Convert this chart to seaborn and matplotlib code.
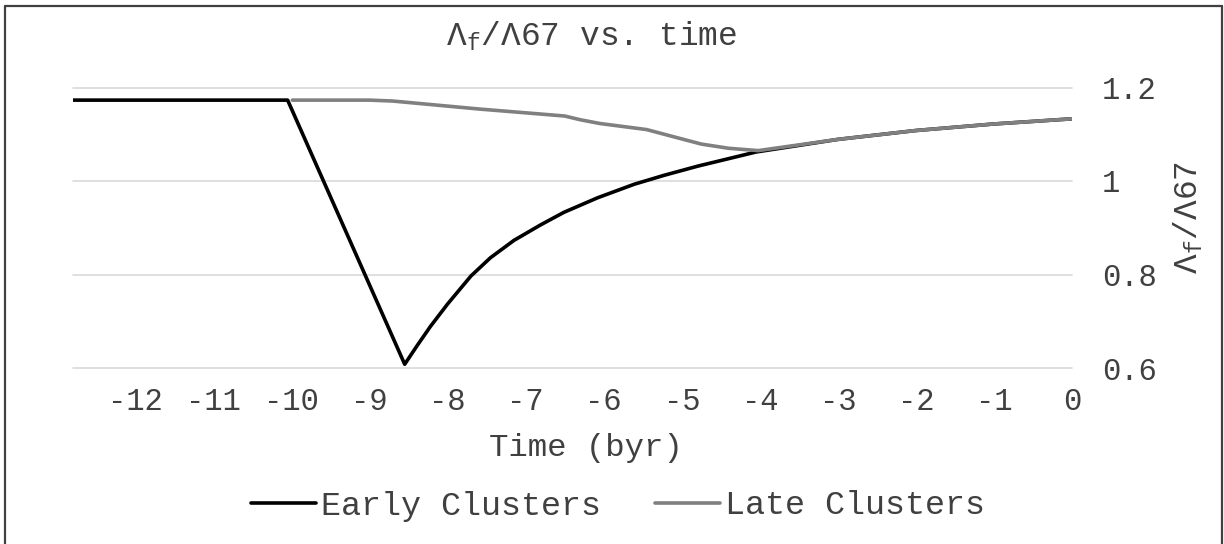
import numpy as np
import pandas as pd
import matplotlib
matplotlib.use('Agg')
import matplotlib.pyplot as plt
from matplotlib.lines import Line2D
from matplotlib.ticker import FuncFormatter
import seaborn as sns

# values
early_time = [-12.8, -10.05, -8.55, -8.39, -8.22, -8.0, -7.7, -7.45, -7.15, -6.81,
              -6.51, -6.08, -5.61, -5.23, -4.79, -4.37, -4.05, -3.0, -2.0, -1.0, 0.0]
early_ratio = [1.173, 1.173, 0.608, 0.648, 0.689, 0.737, 0.797, 0.836, 0.873, 0.906,
               0.933, 0.964, 0.993, 1.012, 1.032, 1.049, 1.062, 1.089, 1.108, 1.122, 1.133]

late_time = [-9.99, -9.0, -8.7, -7.6, -6.5, -6.3, -6.05, -5.45, -5.0, -4.75,
             -4.4, -4.02, -3.0, -2.0, -1.0, 0.0]
late_ratio = [1.173, 1.173, 1.171, 1.154, 1.139, 1.131, 1.123, 1.110, 1.090, 1.079,
              1.070, 1.065, 1.089, 1.108, 1.122, 1.133]

series_names = ['Early Clusters', 'Late Clusters']
series_colors = ['#000000', '#808080']
x_ticks = list(range(-12, 1))
y_ticks = [0.6, 0.8, 1.0, 1.2]

df = pd.concat([
    pd.DataFrame({'time': early_time, 'ratio': early_ratio, 'series': series_names[0]}),
    pd.DataFrame({'time': late_time, 'ratio': late_ratio, 'series': series_names[1]}),
])

sns.set_theme(style='white')
plt.rcParams['font.family'] = ['Liberation Mono', 'DejaVu Sans']
plt.rcParams['mathtext.fontset'] = 'custom'
plt.rcParams['mathtext.rm'] = 'Liberation Mono'
plt.rcParams['mathtext.it'] = 'Liberation Mono'
plt.rcParams['mathtext.default'] = 'regular'
plt.rcParams['axes.unicode_minus'] = False

text_col = '#404040'

fig = plt.figure(figsize=(12.24, 5.44), dpi=100)
ax = fig.add_axes([73/1224, 1-368/544, (1072-73)/1224, (368-87.5)/544])

sns.lineplot(data=df, x='time', y='ratio', hue='series', hue_order=series_names,
             palette=series_colors, estimator=None, sort=False, linewidth=2.6,
             legend=True, ax=ax)
for ln in ax.get_lines():
    ln.set_solid_joinstyle('round')

ax.set_xlim(-12.8, 0)
ax.set_ylim(0.6, 1.2)
ax.set_xticks(x_ticks)
ax.set_yticks(y_ticks)
ax.yaxis.set_major_formatter(FuncFormatter(lambda v, p: f'{v:g}'))
ax.yaxis.tick_right()
ax.yaxis.set_label_position('right')
ax.tick_params(axis='both', length=0, labelsize=22, colors=text_col)
ax.tick_params(axis='x', pad=14)
ax.tick_params(axis='y', pad=21.6)
for s in ax.spines.values():
    s.set_visible(False)
ax.grid(axis='y', color='#d9d9d9', linewidth=1.2)
ax.grid(axis='x', visible=False)
for gl in ax.get_ygridlines():
    gl.set_clip_on(False)

ax.set_title(r'$\Lambda_f/\Lambda67$ vs. time', fontsize=23.7, color=text_col,
             x=(592-73)/999, pad=30)
ax.set_xlabel('Time (byr)', fontsize=23.3, color=text_col)
ax.xaxis.set_label_coords((586-73)/999, -0.232)
ax.set_ylabel(r'$\Lambda_f/\Lambda67$', fontsize=23.7, color=text_col)
ax.yaxis.set_label_coords((1172-73)/999, 0.537)

handles, labels = ax.get_legend_handles_labels()
ax.legend_.remove()
fig.legend(handles, labels, loc='center', bbox_to_anchor=(618/1224, 1-506/544),
           ncol=2, frameon=False, fontsize=24, handlelength=1.95,
           handletextpad=0.15, columnspacing=1.6, labelcolor=text_col)

# outer chart border
for xs, ys in [([5/1224, 5/1224], [0, 1-6/544]),
               ([5/1224, 1222/1224], [1-6/544, 1-6/544]),
               ([1222/1224, 1222/1224], [1-6/544, 0])]:
    fig.add_artist(Line2D(xs, ys, color=text_col, linewidth=1.6, transform=fig.transFigure))

fig.savefig('out.png', dpi=100)
